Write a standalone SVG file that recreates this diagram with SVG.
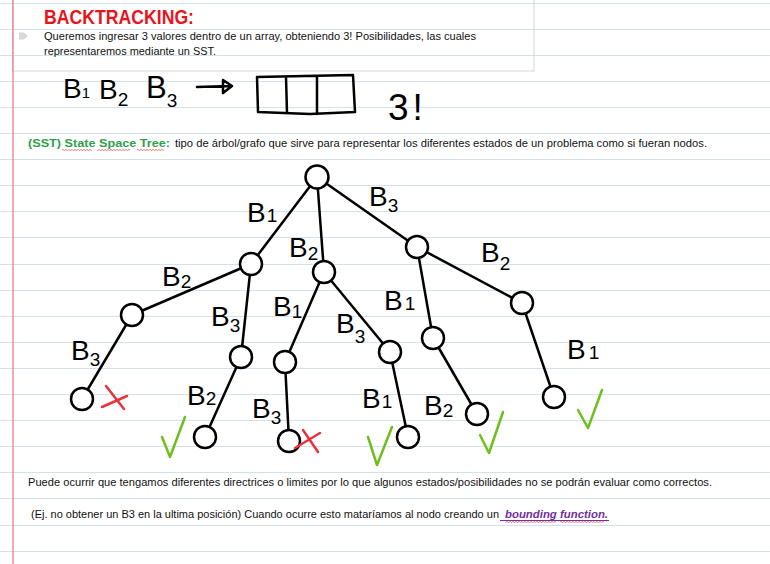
<svg xmlns="http://www.w3.org/2000/svg" width="770" height="564" viewBox="0 0 770 564">
<style>
.rule{stroke:#d3e1ea;stroke-width:1;fill:none}
.margin{stroke:#e27584;stroke-width:1.2}
.box{fill:none;stroke:#d6d6d6;stroke-width:1}
.title{font-family:"Liberation Sans",Arial,sans-serif;font-weight:bold;font-size:21px;fill:#e8141c}
.body{font-family:"Liberation Sans",Arial,sans-serif;font-size:11px;fill:#111}
.green{font-family:"Liberation Sans",Arial,sans-serif;font-size:11px;font-weight:bold;fill:#2fa04c}
.bf{font-family:"Liberation Sans",Arial,sans-serif;font-size:11px;font-weight:bold;font-style:italic;fill:#7030a0}
.hw{font-family:"Liberation Sans",Arial,sans-serif;font-size:28px;fill:#000}
.sub{font-size:19px}
.ink{stroke:#000;stroke-width:2.5;fill:none;stroke-linecap:round;stroke-linejoin:round}
.edge{stroke:#000;stroke-width:2.5;stroke-linecap:round}
.node{fill:#fff;stroke:#000;stroke-width:2.5}
.x{stroke:#e8323c;stroke-width:2.5;stroke-linecap:round;fill:none}
.ok{stroke:#6cc01c;stroke-width:2.5;stroke-linecap:round;stroke-linejoin:round;fill:none}
</style>
<defs>
<pattern id="sq" width="3" height="2" patternUnits="userSpaceOnUse"><path d="M0 1.6 L1.5 0.4 L3 1.6" stroke="#e03a3a" stroke-width="0.7" fill="none"/></pattern>
</defs>
<rect width="770" height="564" fill="#fff"/>
<path class="rule" d="M0 3.5H770M0 29.5H770M0 55.5H770M0 81.5H770M0 107.5H770M0 133.5H770M0 159.5H770M0 185.5H770M0 211.5H770M0 237.5H770M0 264.5H770M0 290.5H770M0 316.5H770M0 342.5H770M0 368.5H770M0 394.5H770M0 420.5H770M0 446.5H770M0 472.5H770M0 498.5H770M0 525.5H770M0 551.5H770"/>
<rect class="box" x="12.5" y="-1" width="521.5" height="72"/>
<line class="margin" x1="13" y1="0" x2="13" y2="564"/>

<g id="header">
<text class="title" x="44" y="24" textLength="150" lengthAdjust="spacingAndGlyphs">BACKTRACKING:</text>
<path d="M19 32.5 L24 32.5 L28 36 L24 39.5 L19 39.5 Z" fill="#d9d9d9"/>
<text class="body" x="44" y="40" textLength="432" lengthAdjust="spacingAndGlyphs">Queremos ingresar 3 valores dentro de un array, obteniendo 3! Posibilidades, las cuales</text>
<text class="body" x="44" y="55" textLength="172" lengthAdjust="spacingAndGlyphs">representaremos mediante un SST.</text>
</g>

<g id="sketch-row">
<text class="hw" x="63" y="98">B<tspan style="font-size:15px" dx="0">1</tspan></text>
<text class="hw" x="99" y="99">B<tspan class="sub" dy="7">2</tspan></text>
<text class="hw" x="146" y="98" style="font-size:31px">B<tspan class="sub" dy="9">3</tspan></text>
<path class="ink" d="M197 87 L230 86 M223 80 L232 86 L223 93 Z"/>
<path class="ink" d="M257 77 L353 75 L355 112 L310 114 L258 112 Z M286 77 L287 113 M317 76 L317 114"/>
<text class="hw" x="388" y="120" style="font-size:37px">3<tspan dx="4">!</tspan></text>
</g>

<g id="sst-def">
<text class="green" x="28" y="147" textLength="142" lengthAdjust="spacingAndGlyphs">(SST) State Space Tree:</text>
<rect x="62" y="149" width="30" height="2" fill="url(#sq)"/>
<rect x="97" y="149" width="33" height="2" fill="url(#sq)"/>
<rect x="137" y="149" width="27" height="2" fill="url(#sq)"/>
<text class="body" x="175" y="147" textLength="532" lengthAdjust="spacingAndGlyphs">tipo de árbol/grafo que sirve para representar los diferentes estados de un problema como si fueran nodos.</text>
</g>

<g id="connectors">
<line class="edge" x1="317" y1="177" x2="251" y2="264"/>
<line class="edge" x1="317" y1="177" x2="324" y2="272"/>
<line class="edge" x1="317" y1="177" x2="417" y2="247"/>
<line class="edge" x1="251" y1="264" x2="132" y2="315"/>
<line class="edge" x1="251" y1="264" x2="241" y2="357"/>
<line class="edge" x1="324" y1="272" x2="285" y2="362"/>
<line class="edge" x1="324" y1="272" x2="390" y2="352"/>
<line class="edge" x1="417" y1="247" x2="433" y2="338"/>
<line class="edge" x1="417" y1="247" x2="522" y2="303"/>
<line class="edge" x1="132" y1="315" x2="82" y2="399"/>
<line class="edge" x1="241" y1="357" x2="205" y2="437"/>
<line class="edge" x1="285" y1="362" x2="289" y2="441"/>
<line class="edge" x1="390" y1="352" x2="408" y2="437"/>
<line class="edge" x1="433" y1="338" x2="477" y2="414"/>
<line class="edge" x1="522" y1="303" x2="554" y2="397"/>
</g>

<g id="edge-labels">
<text class="hw" x="247" y="222">B<tspan class="sub" dx="1">1</tspan></text>
<text class="hw" x="289" y="257">B<tspan class="sub" dy="3">2</tspan></text>
<text class="hw" x="369" y="206">B<tspan class="sub" dy="6">3</tspan></text>
<text class="hw" x="162" y="286">B<tspan class="sub" dy="2">2</tspan></text>
<text class="hw" x="481" y="262">B<tspan class="sub" dy="8">2</tspan></text>
<text class="hw" x="384" y="310">B<tspan class="sub" dx="2">1</tspan></text>
<text class="hw" x="71" y="360">B<tspan class="sub" dy="6">3</tspan></text>
<text class="hw" x="211" y="326">B<tspan class="sub" dy="6">3</tspan></text>
<text class="hw" x="273" y="316">B<tspan class="sub" dy="2">1</tspan></text>
<text class="hw" x="187" y="405">B<tspan class="sub">2</tspan></text>
<text class="hw" x="252" y="418">B<tspan class="sub" dy="6">3</tspan></text>
<text class="hw" x="336" y="333">B<tspan class="sub" dy="10">3</tspan></text>
<text class="hw" x="362" y="408">B<tspan class="sub" dx="1">1</tspan></text>
<text class="hw" x="424" y="415">B<tspan class="sub" dy="2">2</tspan></text>
<text class="hw" x="567" y="359">B<tspan class="sub" dx="3">1</tspan></text>
</g>

<g id="node-root"><circle class="node" cx="317" cy="177" r="11.5"/></g>
<g id="node-b1"><circle class="node" cx="251" cy="264" r="11"/></g>
<g id="node-b2"><circle class="node" cx="324" cy="272" r="11"/></g>
<g id="node-b3"><circle class="node" cx="417" cy="247" r="11"/></g>
<g id="node-b1b2"><circle class="node" cx="132" cy="315" r="11"/></g>
<g id="node-b1b3"><circle class="node" cx="241" cy="357" r="11"/></g>
<g id="node-b2b1"><circle class="node" cx="285" cy="362" r="11"/></g>
<g id="node-b2b3"><circle class="node" cx="390" cy="352" r="11"/></g>
<g id="node-b3b1"><circle class="node" cx="433" cy="338" r="11"/></g>
<g id="node-b3b2"><circle class="node" cx="522" cy="303" r="11"/></g>
<g id="node-b1b2b3"><circle class="node" cx="82" cy="399" r="11"/></g>
<g id="node-b1b3b2"><circle class="node" cx="205" cy="437" r="11"/></g>
<g id="node-b2b1b3"><circle class="node" cx="289" cy="441" r="11"/></g>
<g id="node-b2b3b1"><circle class="node" cx="408" cy="437" r="11"/></g>
<g id="node-b3b1b2"><circle class="node" cx="477" cy="414" r="11"/></g>
<g id="node-b3b2b1"><circle class="node" cx="554" cy="397" r="11"/></g>

<g id="marks">
<path class="x" d="M102 407 L127 396 M106 386 L124 409"/>
<path class="x" d="M295 448 L320 433 M303 430 L318 452"/>
<path class="ok" d="M162 437 L170 457 L185 417"/>
<path class="ok" d="M368 437 L377 465 L392 427"/>
<path class="ok" d="M480 435 L489 453 L503 412"/>
<path class="ok" d="M578 410 L588 428 L602 390"/>
</g>

<g id="notes">
<text class="body" x="28" y="486" textLength="684" lengthAdjust="spacingAndGlyphs">Puede ocurrir que tengamos diferentes directrices o limites por lo que algunos estados/posibilidades no se podrán evaluar como correctos.</text>
<text class="body" x="31" y="518" textLength="468" lengthAdjust="spacingAndGlyphs">(Ej. no obtener un B3 en la ultima posición) Cuando ocurre esto mataríamos al nodo creando un</text>
<text class="bf" x="505" y="518" textLength="103" lengthAdjust="spacingAndGlyphs">bounding function.</text>
<line x1="500" y1="520.5" x2="609" y2="520.5" stroke="#7030a0" stroke-width="1"/>
<rect x="505" y="521" width="51" height="2" fill="url(#sq)"/>
<rect x="560" y="521" width="44" height="2" fill="url(#sq)"/>
</g>
</svg>
